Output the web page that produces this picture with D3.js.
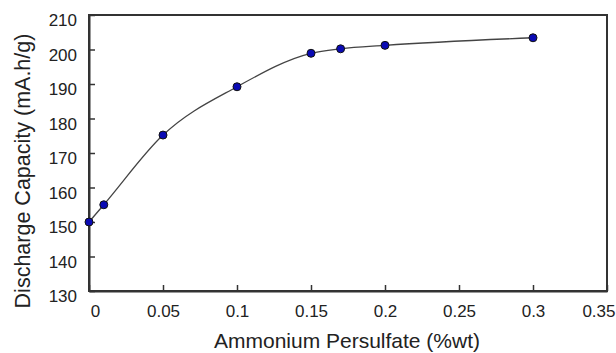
<!DOCTYPE html>
<html>
<head>
<meta charset="utf-8">
<script src="https://cdn.jsdelivr.net/npm/d3@7"></script>
<style>
html,body{margin:0;padding:0;background:#fff;}
svg{display:block;font-family:"Liberation Sans",Arial,Helvetica,sans-serif;}
</style>
</head>
<body>
<svg id="chart" width="616" height="353"></svg>
<script>
const xValues = [0, 0.01, 0.05, 0.1, 0.15, 0.17, 0.2, 0.3];
const yValues = [150, 155, 175.2, 189.2, 198.9, 200.2, 201.2, 203.4];
const xTicks = [0, 0.05, 0.1, 0.15, 0.2, 0.25, 0.3, 0.35];
const yTicks = [130, 140, 150, 160, 170, 180, 190, 200, 210];
const xTitle = "Ammonium Persulfate (%wt)";
const yTitle = "Discharge Capacity (mA.h/g)";

const svg = d3.select("#chart");
const mLeft = 89, mRight = 607, mTop = 15, mBottom = 291;

const x = d3.scaleLinear().domain([0, 0.35]).range([mLeft, mRight]);
const y = d3.scaleLinear().domain([130, 210]).range([mBottom, mTop]);

const data = xValues.map((v, i) => ({x: v, y: yValues[i]}));

// Box frame
svg.append("rect")
  .attr("x", mLeft).attr("y", mTop)
  .attr("width", mRight - mLeft).attr("height", mBottom - mTop)
  .attr("fill", "none").attr("stroke", "#333").attr("stroke-width", 2);

// X axis (ticks inward)
const xAxis = svg.append("g")
  .attr("transform", `translate(0,${mBottom})`)
  .call(d3.axisBottom(x).tickValues(xTicks).tickSizeInner(-6).tickSizeOuter(0)
    .tickFormat(d => String(+d.toFixed(2))));
xAxis.select(".domain").attr("stroke", "#333").attr("stroke-width", 2);
xAxis.selectAll(".tick line").attr("stroke", "#333").attr("stroke-width", 1.5);
xAxis.selectAll(".tick text")
  .attr("y", 14).attr("dy", "0.71em")
  .attr("font-size", 17).attr("fill", "#222");
// keep the last label inside the picture, as in the reference
xAxis.selectAll(".tick text")
  .filter((d, i, n) => i === n.length - 1)
  .attr("text-anchor", "end").attr("x", 8);
xAxis.selectAll(".tick text")
  .filter((d, i) => i === 0)
  .attr("x", 6);

// Y axis (ticks inward)
const yAxis = svg.append("g")
  .attr("transform", `translate(${mLeft},0)`)
  .call(d3.axisLeft(y).tickValues(yTicks).tickSizeInner(-6).tickSizeOuter(0));
yAxis.select(".domain").attr("stroke", "#333").attr("stroke-width", 2);
yAxis.selectAll(".tick line").attr("stroke", "#333").attr("stroke-width", 1.5);
yAxis.selectAll(".tick text")
  .attr("x", -12).attr("dy", "0.62em")
  .attr("font-size", 17).attr("fill", "#222");

// Curve
const line = d3.line()
  .x(d => x(d.x)).y(d => y(d.y))
  .curve(d3.curveMonotoneX);
svg.append("path")
  .datum(data)
  .attr("d", line)
  .attr("fill", "none")
  .attr("stroke", "#444")
  .attr("stroke-width", 1.3);

// Markers
svg.selectAll("circle.pt")
  .data(data)
  .enter().append("circle")
  .attr("class", "pt")
  .attr("cx", d => x(d.x)).attr("cy", d => y(d.y))
  .attr("r", 4)
  .attr("fill", "#0a0ab4")
  .attr("stroke", "#111")
  .attr("stroke-width", 1);

// Axis titles
svg.append("text")
  .attr("x", 347).attr("y", 348)
  .attr("text-anchor", "middle")
  .attr("font-size", 21).attr("fill", "#222")
  .text(xTitle);

svg.append("text")
  .attr("transform", "translate(30,171) rotate(-90)")
  .attr("text-anchor", "middle")
  .attr("font-size", 21.5).attr("fill", "#222")
  .text(yTitle);
</script>
</body>
</html>
